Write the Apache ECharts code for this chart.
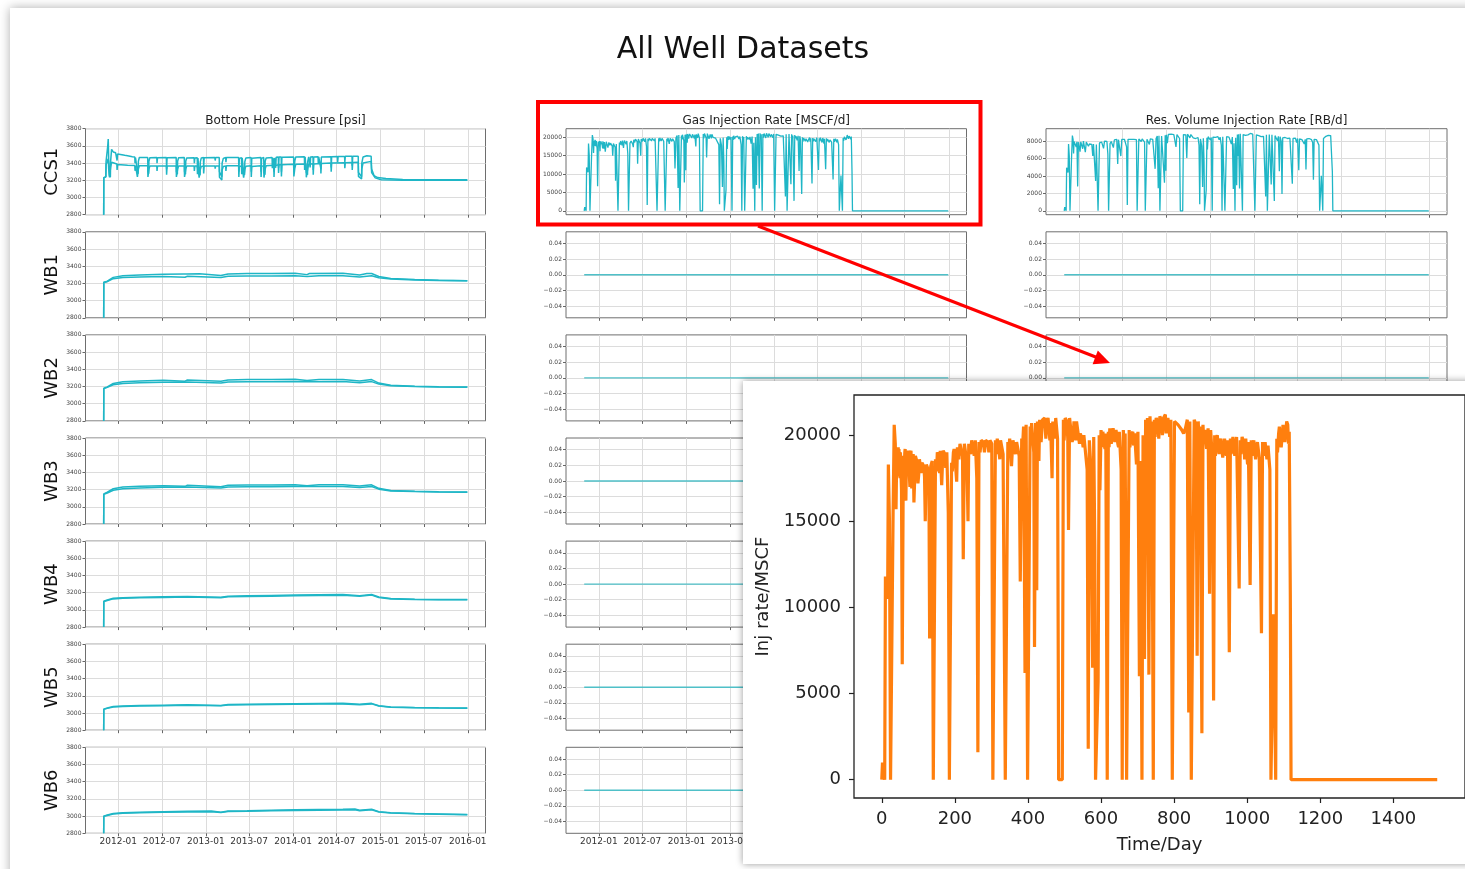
<!DOCTYPE html>
<html><head><meta charset="utf-8">
<script src="https://cdn.jsdelivr.net/npm/echarts@6/dist/echarts.min.js"></script>
<style>html,body{margin:0;padding:0;background:#fff}#c{width:1465px;height:869px}</style>
</head><body><div id="c"></div>
<script>
// ---------------- DATA ----------------
const chartTitle = 'All Well Datasets';
const wellNames = ['CCS1','WB1','WB2','WB3','WB4','WB5','WB6'];
const columnTitles = ['Bottom Hole Pressure [psi]','Gas Injection Rate [MSCF/d]','Res. Volume Injection Rate [RB/d]'];
// x = days since injection start (2011-11-01)
const dateTickDays = [61,243,427,608,792,973,1157,1338,1522];
const dateTickLabels = ['2012-01','2012-07','2013-01','2013-07','2014-01','2014-07','2015-01','2015-07','2016-01'];
const gasTicks = [0,5000,10000,15000,20000];
const resTicks = [0,2000,4000,6000,8000];
const zeroTicks = [-0.04,-0.02,0,0.02,0.04];
const insetDayTicks = [0,200,400,600,800,1000,1200,1400];
const insetXName = 'Time/Day';
const insetYName = 'Inj rate/MSCF';

const gasRate = [[0,0],[2,1000],[7,1000],[8,0],[9,0],[10,11800],[14,11900],[16,10500],[18,18300],[21,15000],[24,0],[28,0],[31,15500],[34,20600],[37,19500],[39,15700],[41,19000],[42,17800],[44,18600],[45,19300],[46,17600],[47,19200],[48,18700],[50,17500],[51,19000],[53,18900],[54,16800],[56,6700],[59,18800],[61,17600],[63,19000],[64,19200],[66,16200],[67,18000],[69,18900],[71,19100],[73,18600],[75,17900],[77,17000],[78,18900],[80,19100],[82,16900],[84,18700],[86,18900],[88,16100],[90,17400],[92,18800],[94,18900],[97,18400],[99,17200],[101,17700],[103,18600],[105,18300],[107,17800],[110,18400],[112,18500],[115,18200],[117,17600],[119,15000],[122,18300],[124,18400],[127,18000],[129,17300],[131,8200],[134,18200],[138,18500],[141,0],[144,0],[147,18600],[150,17900],[152,19000],[154,19100],[156,18800],[158,17800],[160,19100],[162,19000],[164,17100],[166,18300],[168,19100],[170,19000],[173,18900],[175,18100],[178,19000],[180,19100],[182,15500],[185,0],[188,0],[191,18400],[193,17900],[196,19000],[198,19200],[200,19300],[202,18200],[205,17300],[207,19300],[209,19400],[211,18600],[214,19500],[216,19600],[219,19600],[221,18800],[223,12800],[226,19500],[228,19600],[231,19600],[233,18400],[236,15000],[238,19500],[240,19600],[243,18900],[246,19700],[248,19700],[251,19600],[253,18800],[256,19700],[258,19700],[260,17500],[263,1600],[266,19600],[269,19000],[272,19700],[275,19700],[278,19600],[281,19000],[284,19700],[287,19700],[290,19600],[293,19000],[296,19700],[298,19700],[301,19500],[304,0],[308,0],[311,19700],[313,18900],[316,19800],[318,19800],[321,19000],[323,18600],[325,19700],[327,19700],[330,19800],[332,18900],[335,18800],[338,0],[342,0],[345,19600],[347,18900],[350,19800],[352,19800],[355,18200],[357,19000],[359,19700],[362,19800],[364,19800],[366,18900],[369,19600],[371,19700],[374,19500],[376,18800],[379,11500],[383,19800],[386,19600],[388,20500],[392,6200],[395,20600],[399,0],[403,0],[406,20500],[408,19400],[410,20700],[412,20800],[414,20600],[416,19000],[418,7700],[421,20700],[424,11000],[426,20800],[428,19800],[430,18500],[432,20900],[434,20900],[436,19600],[440,20900],[443,21000],[446,21000],[449,19800],[452,20800],[455,21000],[457,20900],[460,19700],[462,20700],[466,17500],[468,20800],[470,20900],[473,19800],[476,21000],[478,20900],[481,19800],[484,0],[494,0],[497,20900],[499,19700],[502,21000],[504,20900],[507,20800],[509,19800],[511,14500],[514,21000],[516,20900],[519,20900],[521,19600],[524,20000],[526,20800],[528,20900],[531,19700],[533,20800],[536,20700],[538,20000],[541,19500],[543,20100],[546,20100],[548,19800],[551,19300],[553,20000],[556,20000],[558,20100],[562,18000],[565,1800],[568,19700],[573,17800],[577,6500],[580,19900],[583,13500],[585,0],[589,0],[592,5700],[595,20000],[597,16800],[600,20300],[602,19300],[605,20200],[607,20300],[609,19400],[611,19200],[613,20100],[617,0],[620,20200],[622,19300],[624,20400],[626,20400],[628,19500],[631,20100],[633,20400],[636,20500],[638,19600],[641,20300],[643,20400],[646,19500],[648,19300],[650,20200],[652,20200],[655,18000],[658,0],[661,20300],[663,19400],[666,20100],[668,20200],[670,0],[674,0],[677,20300],[679,19300],[682,20000],[684,20100],[687,20200],[689,19400],[692,20100],[694,20200],[697,18300],[699,19300],[701,20200],[705,6000],[708,18500],[712,0],[715,20000],[719,7000],[722,20900],[725,15000],[727,21000],[731,6100],[734,21100],[736,19800],[739,20800],[741,20900],[743,0],[746,20900],[748,19900],[751,21000],[753,21100],[756,20700],[758,19800],[761,21100],[763,21000],[766,20800],[768,20000],[771,21000],[773,21100],[776,21200],[778,20100],[781,20800],[783,21000],[786,21000],[788,19900],[791,20900],[793,20900],[795,0],[798,0],[801,20800],[806,20700],[811,20600],[816,20500],[821,20300],[826,20100],[831,20400],[836,20900],[840,3900],[843,20800],[847,0],[852,0],[855,20900],[860,20600],[863,7200],[866,20800],[868,19600],[871,20500],[873,20600],[876,2700],[879,20600],[881,19700],[884,20300],[886,20400],[889,19200],[893,20400],[897,10800],[900,20300],[903,19200],[905,19000],[908,4600],[911,20000],[913,18800],[916,19800],[918,20000],[921,20100],[923,18900],[926,19600],[928,19800],[931,19800],[933,18700],[936,19300],[938,19800],[941,19900],[943,18800],[946,19700],[948,19800],[951,7400],[954,19800],[956,18900],[959,19600],[961,19900],[964,19900],[966,18800],[969,18700],[971,19900],[973,19800],[978,11100],[981,19700],[983,18900],[986,19900],[988,19900],[991,19500],[993,18600],[996,19800],[998,19700],[1001,18300],[1003,19600],[1005,19600],[1008,11300],[1011,19700],[1013,18800],[1016,19500],[1018,19700],[1021,19800],[1023,18600],[1026,19300],[1028,19600],[1031,19500],[1033,18700],[1036,18700],[1039,8500],[1042,19600],[1044,18800],[1047,19200],[1049,19600],[1052,19500],[1054,18600],[1057,19400],[1059,19500],[1062,18000],[1065,0],[1070,0],[1072,9600],[1075,4600],[1078,0],[1081,19800],[1083,19000],[1086,20100],[1088,20500],[1091,20400],[1093,19300],[1096,20000],[1098,20600],[1101,20700],[1103,19600],[1106,20300],[1108,20800],[1111,20600],[1113,19500],[1115,20200],[1118,10700],[1120,0],[1520,0]];

const resVolRate = [[0,0],[2,420],[7,420],[8,0],[9,0],[10,4960],[14,5000],[16,4410],[18,7690],[21,6300],[24,0],[28,0],[31,6510],[34,8650],[37,8190],[39,6590],[41,7980],[44,7810],[47,8060],[50,7350],[53,7940],[56,2810],[59,7900],[63,7980],[66,6800],[69,7940],[73,7810],[77,7140],[80,8020],[84,7850],[88,6760],[92,7900],[97,7730],[101,7430],[105,7690],[110,7730],[115,7640],[119,6300],[122,7690],[127,7560],[131,3440],[134,7640],[138,7770],[141,0],[144,0],[147,7810],[152,7980],[156,7900],[160,8020],[164,7180],[168,8020],[173,7940],[178,7980],[182,6510],[185,0],[188,0],[191,7730],[196,7980],[200,8110],[205,7270],[209,8150],[214,8190],[219,8230],[223,5380],[226,8190],[231,8230],[236,6300],[240,8230],[246,8270],[251,8230],[256,8270],[260,7350],[263,670],[266,8230],[272,8270],[278,8230],[284,8270],[290,8230],[296,8270],[301,8190],[304,0],[308,0],[311,8270],[316,8320],[321,7980],[325,8270],[330,8320],[335,7900],[338,0],[342,0],[345,8230],[350,8320],[355,7640],[359,8270],[364,8320],[369,8230],[374,8190],[379,4830],[383,8320],[388,8610],[392,2600],[395,8650],[399,0],[403,0],[406,8610],[410,8690],[414,8650],[418,3230],[421,8690],[424,4620],[426,8740],[430,7770],[434,8780],[440,8780],[446,8820],[452,8740],[457,8780],[462,8690],[466,7350],[470,8780],[476,8820],[481,8320],[484,0],[494,0],[497,8780],[502,8820],[507,8740],[511,6090],[514,8820],[519,8780],[524,8400],[528,8780],[533,8740],[538,8400],[543,8440],[548,8320],[553,8400],[558,8440],[562,7560],[565,760],[568,8270],[573,7480],[577,2730],[580,8360],[583,5670],[585,0],[589,0],[592,2390],[595,8400],[597,7060],[600,8530],[605,8480],[609,8150],[613,8440],[617,0],[620,8480],[626,8570],[631,8440],[636,8610],[641,8530],[646,8190],[650,8480],[655,7560],[658,0],[661,8530],[666,8440],[670,0],[674,0],[677,8530],[682,8400],[687,8480],[692,8440],[697,7690],[701,8480],[705,2520],[708,7770],[712,0],[715,8400],[719,2940],[722,8780],[725,6300],[727,8820],[731,2560],[734,8860],[739,8740],[743,0],[746,8780],[751,8820],[756,8690],[761,8860],[766,8740],[771,8820],[776,8900],[781,8740],[786,8820],[791,8780],[795,0],[798,0],[801,8740],[806,8690],[811,8650],[816,8610],[821,8530],[826,8440],[831,8570],[836,8780],[840,1640],[843,8740],[847,0],[852,0],[855,8780],[860,8650],[863,3020],[866,8740],[871,8610],[876,1130],[879,8650],[884,8530],[889,8060],[893,8570],[897,4540],[900,8530],[905,7980],[908,1930],[911,8400],[916,8320],[921,8440],[926,8230],[931,8320],[936,8110],[941,8360],[946,8270],[951,3110],[954,8320],[959,8230],[964,8360],[969,7850],[973,8320],[978,4660],[981,8270],[986,8360],[991,8190],[996,8320],[1001,7690],[1005,8230],[1008,4750],[1011,8270],[1016,8190],[1021,8320],[1026,8110],[1031,8190],[1036,7850],[1039,3570],[1042,8230],[1047,8060],[1052,8190],[1057,8150],[1062,7560],[1065,0],[1070,0],[1072,4030],[1075,1930],[1078,0],[1081,8320],[1086,8440],[1091,8570],[1096,8400],[1101,8690],[1106,8530],[1111,8650],[1115,8480],[1118,4490],[1120,0],[1520,0]];

const bhpCCS1Upper = [[0,2800],[0.5,3230],[9,3240],[10,3420],[17,3600],[19,3680],[21,3440],[24,3260],[28,3235],[29,3420],[33,3560],[40,3530],[50,3520],[55,3515],[56,3430],[58,3505],[70,3500],[88,3490],[100,3485],[120,3475],[130,3472],[131,3400],[133,3465],[140,3470],[141,3300],[144,3275],[145,3420],[149,3465],[184,3465],[185,3300],[188,3275],[189,3420],[193,3462],[222,3465],[223,3400],[225,3462],[262,3465],[263,3330],[265,3462],[303,3465],[304,3300],[308,3270],[309,3420],[313,3462],[337,3465],[338,3300],[342,3270],[343,3420],[347,3460],[378,3462],[379,3400],[381,3460],[391,3462],[392,3340],[394,3458],[398,3462],[399,3290],[403,3260],[404,3415],[408,3460],[417,3465],[418,3360],[420,3462],[465,3465],[466,3430],[468,3465],[483,3465],[484,3300],[494,3240],[495,3400],[500,3455],[510,3465],[511,3410],[513,3465],[564,3465],[565,3300],[567,3455],[576,3462],[577,3340],[579,3460],[584,3462],[585,3290],[589,3265],[590,3415],[594,3458],[616,3465],[617,3300],[619,3455],[657,3465],[658,3300],[660,3455],[669,3465],[670,3290],[674,3265],[675,3420],[679,3460],[704,3465],[705,3340],[707,3462],[711,3465],[712,3300],[714,3460],[718,3468],[719,3345],[721,3468],[730,3470],[731,3345],[733,3470],[742,3470],[743,3300],[745,3468],[794,3472],[795,3300],[798,3280],[799,3425],[803,3472],[839,3475],[840,3320],[842,3472],[846,3475],[847,3290],[852,3265],[853,3420],[857,3472],[862,3475],[863,3350],[865,3472],[875,3475],[876,3320],[878,3472],[896,3475],[897,3400],[899,3472],[907,3475],[908,3330],[910,3472],[950,3475],[951,3350],[953,3475],[977,3478],[978,3410],[980,3478],[1007,3478],[1008,3410],[1010,3480],[1038,3480],[1039,3370],[1041,3480],[1064,3480],[1065,3290],[1078,3240],[1079,3400],[1084,3470],[1100,3485],[1118,3480],[1120,3330],[1130,3255],[1145,3232],[1180,3220],[1250,3210],[1350,3205],[1520,3205]];
const bhpCCS1Lower = [[0,2800],[0.5,3230],[9,3240],[10,3380],[19,3450],[21,3330],[24,3235],[28,3220],[29,3350],[33,3410],[40,3400],[55,3390],[56,3320],[58,3385],[100,3375],[130,3372],[131,3310],[133,3370],[140,3370],[141,3240],[144,3228],[145,3330],[149,3368],[184,3368],[185,3240],[188,3228],[189,3330],[193,3366],[222,3366],[223,3310],[225,3365],[262,3366],[263,3265],[265,3365],[303,3366],[304,3240],[308,3222],[309,3330],[313,3365],[337,3366],[338,3240],[342,3222],[343,3330],[347,3365],[378,3366],[379,3310],[381,3365],[391,3366],[392,3270],[394,3362],[398,3365],[399,3230],[403,3215],[404,3325],[408,3362],[417,3366],[418,3280],[420,3365],[465,3367],[466,3335],[468,3367],[483,3367],[484,3235],[494,3205],[495,3320],[500,3360],[510,3368],[511,3310],[513,3368],[564,3368],[565,3240],[567,3360],[576,3365],[577,3270],[579,3362],[584,3365],[585,3230],[589,3215],[590,3325],[594,3362],[616,3368],[617,3240],[619,3360],[657,3370],[658,3240],[660,3362],[669,3370],[670,3232],[674,3218],[675,3330],[679,3368],[711,3375],[712,3240],[714,3370],[730,3380],[731,3285],[733,3380],[742,3382],[743,3245],[745,3380],[794,3388],[795,3245],[798,3232],[799,3340],[803,3386],[846,3390],[847,3235],[852,3220],[853,3335],[857,3388],[875,3392],[876,3265],[878,3390],[907,3396],[908,3280],[910,3395],[950,3400],[951,3300],[953,3400],[1007,3405],[1008,3340],[1010,3405],[1038,3408],[1039,3320],[1041,3408],[1064,3410],[1065,3245],[1078,3215],[1079,3330],[1084,3400],[1118,3420],[1120,3290],[1135,3228],[1160,3207],[1250,3200],[1520,3200]];

const bhpWB1Upper = [[0,2800],[0.5,3215],[15,3225],[40,3270],[80,3290],[150,3298],[250,3305],[335,3310],[340,3296],[345,3310],[400,3312],[490,3292],[520,3310],[600,3315],[700,3315],[800,3318],[850,3302],[860,3315],[1000,3318],[1070,3298],[1100,3315],[1120,3315],[1150,3280],[1200,3258],[1300,3245],[1400,3238],[1520,3232]];
const bhpWB1Lower = [[0,2800],[0.5,3210],[15,3220],[40,3255],[80,3268],[150,3275],[250,3280],[340,3272],[350,3283],[490,3268],[520,3282],[600,3285],[700,3287],[800,3290],[850,3280],[900,3288],[1000,3290],[1070,3275],[1120,3290],[1150,3265],[1200,3250],[1300,3240],[1400,3235],[1520,3230]];
const bhpWB2Upper = [[0,2800],[0.5,3180],[15,3195],[40,3235],[80,3255],[150,3265],[250,3272],[340,3262],[350,3276],[490,3260],[520,3276],[600,3280],[700,3280],[800,3283],[850,3270],[900,3280],[1000,3282],[1070,3265],[1120,3280],[1150,3240],[1200,3215],[1300,3203],[1400,3198],[1520,3195]];
const bhpWB2Lower = [[0,2800],[0.5,3175],[15,3190],[40,3220],[80,3235],[150,3243],[250,3248],[350,3252],[490,3240],[520,3252],[600,3255],[700,3256],[800,3258],[900,3256],[1000,3258],[1070,3245],[1120,3257],[1150,3228],[1200,3208],[1300,3200],[1400,3195],[1520,3192]];
const bhpWB3Upper = [[0,2800],[0.5,3150],[15,3170],[40,3210],[80,3230],[150,3240],[250,3246],[340,3238],[350,3250],[490,3234],[520,3250],[600,3253],[700,3254],[800,3257],[850,3245],[900,3255],[1000,3257],[1070,3242],[1120,3255],[1150,3215],[1200,3190],[1300,3180],[1400,3175],[1520,3172]];
const bhpWB3Lower = [[0,2800],[0.5,3145],[15,3160],[40,3192],[80,3210],[150,3220],[250,3226],[350,3230],[490,3218],[520,3230],[600,3233],[700,3234],[800,3237],[900,3235],[1000,3237],[1070,3225],[1120,3236],[1150,3205],[1200,3185],[1300,3177],[1400,3173],[1520,3170]];
const bhpWB4Upper = [[0,2800],[0.5,3100],[15,3115],[40,3135],[80,3142],[150,3147],[250,3152],[350,3156],[490,3148],[520,3160],[600,3164],[700,3168],[800,3172],[900,3175],[1000,3178],[1070,3166],[1120,3180],[1150,3150],[1200,3132],[1300,3125],[1400,3122],[1520,3120]];
const bhpWB4Lower = [[0,2800],[0.5,3098],[15,3110],[40,3128],[80,3135],[150,3140],[250,3145],[350,3149],[490,3142],[520,3152],[600,3156],[700,3160],[800,3164],[900,3167],[1000,3170],[1070,3160],[1120,3172],[1150,3145],[1200,3128],[1300,3122],[1400,3119],[1520,3117]];
const bhpWB5Upper = [[0,2800],[0.5,3045],[15,3058],[40,3075],[80,3082],[150,3087],[250,3091],[350,3095],[490,3088],[520,3098],[600,3101],[700,3104],[800,3107],[900,3110],[1000,3112],[1070,3101],[1120,3112],[1150,3085],[1200,3070],[1300,3064],[1400,3061],[1520,3058]];
const bhpWB5Lower = [[0,2800],[0.5,3043],[15,3054],[40,3070],[80,3076],[150,3081],[250,3085],[350,3089],[490,3083],[520,3092],[600,3095],[700,3098],[800,3101],[900,3104],[1000,3106],[1070,3096],[1120,3106],[1150,3081],[1200,3067],[1300,3061],[1400,3058],[1520,3056]];
const bhpWB6Upper = [[0,2800],[0.5,3000],[15,3012],[40,3030],[80,3038],[150,3045],[250,3050],[350,3055],[450,3058],[490,3046],[520,3060],[600,3063],[700,3068],[800,3073],[900,3076],[1000,3079],[1050,3082],[1070,3068],[1120,3080],[1150,3052],[1200,3038],[1300,3030],[1400,3025],[1520,3020]];
const bhpWB6Lower = [[0,2800],[0.5,2998],[15,3008],[40,3025],[80,3033],[150,3040],[250,3045],[350,3049],[450,3052],[490,3042],[520,3054],[600,3057],[700,3062],[800,3066],[900,3069],[1000,3072],[1050,3075],[1070,3063],[1120,3073],[1150,3048],[1200,3035],[1300,3027],[1400,3022],[1520,3017]];
const zeroRate = [[0,0],[1520,0]];

// ---------------- BUILD ----------------
const bhpPairs = [[bhpCCS1Upper,bhpCCS1Lower],[bhpWB1Upper,bhpWB1Lower],[bhpWB2Upper,bhpWB2Lower],[bhpWB3Upper,bhpWB3Lower],[bhpWB4Upper,bhpWB4Lower],[bhpWB5Upper,bhpWB5Lower],[bhpWB6Upper,bhpWB6Lower]];
const FONT = 'DejaVu Sans';
const TEAL = '#1fb6c6';
const colLeft = [85.5, 566, 1046];
const colWidth = [400, 400.5, 401];
const rowTop = [128.7, 231.8, 334.9, 438, 541.1, 644.2, 747.3];
const rowH = 86;
const XMIN = -76, XMAX = 1596;

const grids = [], xAxes = [], yAxes = [], series = [];
const plain = v => String(v);
const fmtZero = v => v.toFixed(2).replace('-', '\u2212');

for (let r = 0; r < 7; r++) {
  for (let c = 0; c < 3; c++) {
    const gi = grids.length;
    grids.push({left: colLeft[c], top: rowTop[r], width: colWidth[c], height: rowH, show: true,
      borderColor: '#6e6e6e', borderWidth: 1, backgroundColor: 'transparent'});
    xAxes.push({type: 'value', gridIndex: gi, min: XMIN, max: XMAX,
      axisLine: {show: false, onZero: false},
      axisTick: {show: true, customValues: dateTickDays, length: 3, lineStyle: {color: '#666'}},
      axisLabel: {show: r === 6, customValues: dateTickDays,
        formatter: v => dateTickLabels[dateTickDays.indexOf(v)],
        fontSize: 9, color: '#333', margin: 4, fontFamily: FONT},
      splitLine: {show: true, lineStyle: {color: '#dcdcdc', width: 1}}});
    const yBase = {type: 'value', gridIndex: gi, axisLine: {show: false, onZero: false},
      axisTick: {show: true, length: 3, lineStyle: {color: '#666'}},
      axisLabel: {fontSize: 6, color: '#444', margin: 4, fontFamily: FONT, formatter: plain},
      splitLine: {show: true, lineStyle: {color: '#dcdcdc', width: 1}}};
    if (c === 0) {
      yAxes.push(Object.assign({}, yBase, {min: 2800, max: 3800, interval: 200}));
      bhpPairs[r].forEach(arr => series.push({type: 'line', xAxisIndex: gi, yAxisIndex: gi, data: arr,
        showSymbol: false, animation: false, lineStyle: {color: TEAL, width: 1.5}}));
    } else if (r === 0) {
      const ticks = c === 1 ? gasTicks : resTicks;
      const y = Object.assign({}, yBase, c === 1 ? {min: -1063, max: 22333} : {min: -450, max: 9450});
      y.axisTick = Object.assign({}, yBase.axisTick, {customValues: ticks});
      y.axisLabel = Object.assign({}, yBase.axisLabel, {customValues: ticks});
      yAxes.push(y);
      series.push({type: 'line', xAxisIndex: gi, yAxisIndex: gi, data: c === 1 ? gasRate : resVolRate,
        showSymbol: false, animation: false, lineStyle: {color: TEAL, width: 1.3}});
    } else {
      const y = Object.assign({}, yBase, {min: -0.055, max: 0.055});
      y.axisTick = Object.assign({}, yBase.axisTick, {customValues: zeroTicks});
      y.axisLabel = Object.assign({}, yBase.axisLabel, {customValues: zeroTicks, formatter: fmtZero});
      yAxes.push(y);
      series.push({type: 'line', xAxisIndex: gi, yAxisIndex: gi, data: zeroRate,
        showSymbol: false, animation: false, lineStyle: {color: '#4fc0c8', width: 1.4}});
    }
  }
}

// inset
const ig = grids.length;
grids.push({left: 854, top: 395, width: 616, height: 403, show: true, borderColor: '#222', borderWidth: 1.3, z: 60});
xAxes.push({type: 'value', gridIndex: ig, min: XMIN, max: XMAX, z: 60,
  axisLine: {show: false, onZero: false},
  axisTick: {show: true, customValues: insetDayTicks, length: 5, lineStyle: {color: '#222', width: 1.2}},
  axisLabel: {customValues: insetDayTicks, fontSize: 18, color: '#222', margin: 12, fontFamily: FONT, formatter: plain},
  splitLine: {show: false},
  name: insetXName, nameLocation: 'middle', nameGap: 38,
  nameTextStyle: {fontSize: 18, color: '#222', fontFamily: FONT}});
yAxes.push({type: 'value', gridIndex: ig, min: -1063, max: 22333, z: 60,
  axisLine: {show: false, onZero: false},
  axisTick: {show: true, customValues: gasTicks, length: 5, lineStyle: {color: '#222', width: 1.2}},
  axisLabel: {customValues: gasTicks, fontSize: 18, color: '#222', margin: 13, fontFamily: FONT, formatter: plain},
  splitLine: {show: false},
  name: insetYName, nameLocation: 'middle', nameGap: 82, nameRotate: 90,
  nameTextStyle: {fontSize: 18, color: '#222', fontFamily: FONT}});
series.push({type: 'line', xAxisIndex: ig, yAxisIndex: ig, data: gasRate, z: 61,
  showSymbol: false, animation: false, lineStyle: {color: '#ff7f0e', width: 3.2}});

// decorations & texts
const graphics = [
  {type: 'rect', z: -5, shape: {x: 10, y: 8, width: 1500, height: 900},
    style: {fill: '#fff', shadowBlur: 10, shadowColor: 'rgba(0,0,0,0.32)'}},
  {type: 'text', z: 5, x: 743, y: 50, style: {text: chartTitle, font: '30px "DejaVu Sans"', fill: '#111', align: 'center', verticalAlign: 'middle'}},
  {type: 'text', z: 5, x: colLeft[0] + colWidth[0] / 2, y: 121, style: {text: columnTitles[0], font: '12px "DejaVu Sans"', fill: '#222', align: 'center', verticalAlign: 'middle'}},
  {type: 'text', z: 5, x: colLeft[1] + colWidth[1] / 2, y: 121, style: {text: columnTitles[1], font: '12px "DejaVu Sans"', fill: '#222', align: 'center', verticalAlign: 'middle'}},
  {type: 'text', z: 5, x: colLeft[2] + colWidth[2] / 2, y: 121, style: {text: columnTitles[2], font: '12px "DejaVu Sans"', fill: '#222', align: 'center', verticalAlign: 'middle'}},
  {type: 'rect', z: 50, shape: {x: 743, y: 381, width: 760, height: 483},
    style: {fill: '#fff', shadowBlur: 7, shadowColor: 'rgba(0,0,0,0.4)'}},
  {type: 'rect', z: 100, shape: {x: 538, y: 102, width: 442.5, height: 122.5},
    style: {fill: 'transparent', stroke: '#ff0000', lineWidth: 4}},
  {type: 'line', z: 100, shape: {x1: 758, y1: 226, x2: 1097, y2: 357.5},
    style: {stroke: '#ff0000', lineWidth: 3}},
  {type: 'polygon', z: 100, shape: {points: [[1110, 363], [1092.6, 364.2], [1097.8, 350.5]]},
    style: {fill: '#ff0000'}}
];
wellNames.forEach((n, r) => {
  graphics.push({type: 'text', z: 5, x: 52, y: rowTop[r] + rowH / 2, rotation: Math.PI / 2,
    style: {text: n, font: '18px "DejaVu Sans"', fill: '#111', align: 'center', verticalAlign: 'middle'}});
});

const chart = echarts.init(document.getElementById('c'), null, {width: 1465, height: 869});
chart.setOption({
  backgroundColor: '#fff',
  animation: false,
  grid: grids, xAxis: xAxes, yAxis: yAxes, series: series,
  graphic: {elements: graphics}
});
</script></body></html>
